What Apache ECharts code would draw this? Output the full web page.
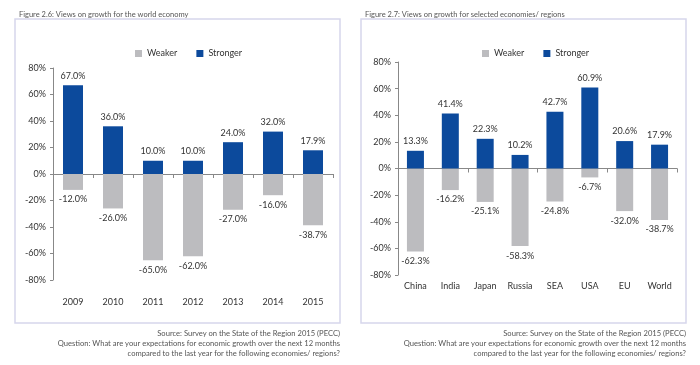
<!DOCTYPE html>
<html><head><meta charset="utf-8">
<script src="https://cdn.jsdelivr.net/npm/echarts@6/dist/echarts.min.js"></script>
<style>html,body{margin:0;padding:0;background:#fff}#c{width:700px;height:365px}</style>
</head><body><div id="c"></div>
<script>
const years = ['2009','2010','2011','2012','2013','2014','2015'];
const worldWeaker = [-12.0,-26.0,-65.0,-62.0,-27.0,-16.0,-38.7];
const worldStronger = [67.0,36.0,10.0,10.0,24.0,32.0,17.9];
const economies = ['China','India','Japan','Russia','SEA','USA','EU','World'];
const econWeaker = [-62.3,-16.2,-25.1,-58.3,-24.8,-6.7,-32.0,-38.7];
const econStronger = [13.3,41.4,22.3,10.2,42.7,60.9,20.6,17.9];
const yTicks = {min:-80,max:80,interval:20};

const FONT = 'Lato';
const TXT = '#333';
const BLUE = '#0c4a9c';
const GREY = '#bcbcbf';
const SRC = 'Source: Survey on the State of the Region 2015 (PECC)\nQuestion: What are your expectations for economic growth over the next 12 months\ncompared to the last year for the following economies/ regions?';

const chart = echarts.init(document.getElementById('c'));
function lbl(pos){return {show:true,position:pos,fontSize:9,color:TXT,fontFamily:FONT,distance:5,formatter:p=>p.value.toFixed(1)+'%'};}
function yAx(g){return {gridIndex:g,type:'value',min:yTicks.min,max:yTicks.max,interval:yTicks.interval,
  axisLine:{show:true,lineStyle:{color:'#888'}},axisTick:{show:true,length:3,lineStyle:{color:'#888'}},
  splitLine:{show:false},axisLabel:{formatter:'{value}%',fontSize:9,color:TXT,fontFamily:FONT,margin:7}};}
function xLab(g,data,m){return {gridIndex:g,type:'category',data:data,position:'bottom',axisLine:{show:false,onZero:false},axisTick:{show:false},
  axisLabel:{fontSize:9,color:TXT,fontFamily:FONT,margin:m}};}
function xLine(g,data){return {gridIndex:g,type:'category',data:data,position:'bottom',axisLine:{show:true,onZero:true,lineStyle:{color:'#888'}},
  axisTick:{show:true,length:4,lineStyle:{color:'#888'}},axisLabel:{show:false}};}
function src(x){return {type:'text',x:x,y:329,style:{text:SRC,textAlign:'right',textVerticalAlign:'top',fontSize:7.6,lineHeight:10,fill:'#555',fontFamily:FONT}};}

chart.setOption({
  animation:false,
  textStyle:{fontFamily:FONT},
  title:[
    {text:'Figure 2.6: Views on growth for the world economy',left:14,top:6,textStyle:{fontSize:7.5,fontWeight:'normal',color:'#555',fontFamily:FONT}},
    {text:'Figure 2.7: Views on growth for selected economies/ regions',left:360,top:6,textStyle:{fontSize:7.5,fontWeight:'normal',color:'#555',fontFamily:FONT}}
  ],
  graphic:[
    {type:'rect',shape:{x:15,y:19,width:325,height:304},style:{fill:'none',stroke:'#d6d6ec',lineWidth:1.5},z:-1},
    {type:'rect',shape:{x:361,y:19,width:325,height:304},style:{fill:'none',stroke:'#d6d6ec',lineWidth:1.5},z:-1},
    src(340), src(686)
  ],
  legend:[
    {left:130,top:44,itemWidth:7,itemHeight:7,itemGap:19,icon:'rect',data:['Weaker','Stronger'],textStyle:{fontSize:9,color:TXT,fontFamily:FONT}},
    {left:477,top:44,itemWidth:7,itemHeight:7,itemGap:19,icon:'rect',data:['Weaker','Stronger'],textStyle:{fontSize:9,color:TXT,fontFamily:FONT}}
  ],
  grid:[
    {left:53,right:367,top:68,bottom:85},
    {left:398,right:23,top:62,bottom:90}
  ],
  xAxis:[xLab(0,years,18),xLine(0,years),xLab(1,economies,7),xLine(1,economies)],
  yAxis:[yAx(0),yAx(1)],
  series:[
    {name:'Weaker',type:'bar',xAxisIndex:0,yAxisIndex:0,data:worldWeaker,barWidth:20,barGap:'-100%',itemStyle:{color:GREY},label:lbl('bottom')},
    {name:'Stronger',type:'bar',xAxisIndex:0,yAxisIndex:0,data:worldStronger,barWidth:20,barGap:'-100%',itemStyle:{color:BLUE},label:lbl('top')},
    {name:'Weaker',type:'bar',xAxisIndex:2,yAxisIndex:1,data:econWeaker,barWidth:17,barGap:'-100%',itemStyle:{color:GREY},label:lbl('bottom')},
    {name:'Stronger',type:'bar',xAxisIndex:2,yAxisIndex:1,data:econStronger,barWidth:17,barGap:'-100%',itemStyle:{color:BLUE},label:lbl('top')}
  ]
});
</script></body></html>
